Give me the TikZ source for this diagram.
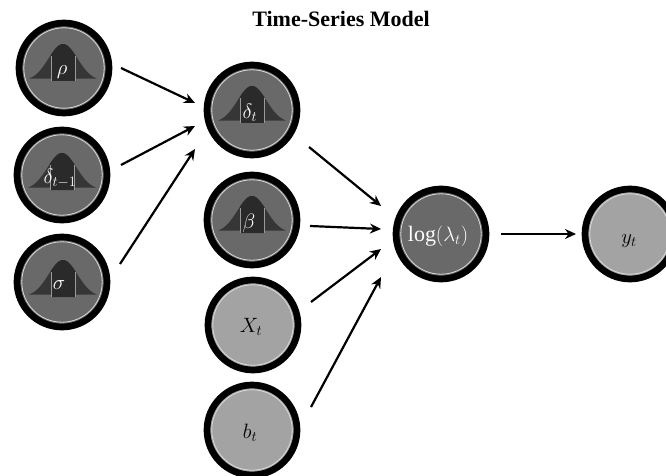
\documentclass[tikz,border=0pt]{standalone}
\usepackage{fontspec}
\setmainfont{Liberation Serif}
\usepackage{amsmath}
\usetikzlibrary{arrows.meta}
\definecolor{latent}{HTML}{696969}
\definecolor{observed}{HTML}{A3A3A3}
\definecolor{bellside}{HTML}{363636}
\definecolor{bellmid}{HTML}{2A2A2A}
\definecolor{ringline}{HTML}{D8D8D8}
\definecolor{tickline}{HTML}{9A9A9A}
\tikzset{
  varnode/.style={circle,draw=black,line width=6.7pt,minimum size=90pt,inner sep=0pt,outer sep=0pt,
    path picture={\draw[ringline,line width=.8pt] (path picture bounding box.center) circle (40.2pt);}},
  latentnode/.style={varnode,fill=latent},
  observednode/.style={varnode,fill=observed},
  varlabel/.style={inner sep=0pt,font=\fontsize{20}{20}\selectfont},
  link/.style={-{Stealth[length=11pt,width=10pt]},line width=2.2pt,black}
}
\newcommand{\bellshape}[2]{%
  \begin{scope}[shift={(#1,#2)}]
    \fill[bellside] plot[domain=-34:34,samples=50,smooth] (\x,{-37*exp(-\x*\x/(2*14.5*14.5))}) -- cycle;
    \fill[bellmid] plot[domain=-12:12,samples=20,smooth] (\x,{-37*exp(-\x*\x/(2*14.5*14.5))}) -- (12,0) -- (-12,0) -- cycle;
    \draw[tickline,line width=.7pt] (-12,0) -- (-12,-25) (12,0) -- (12,-25);
  \end{scope}}
\begin{document}
\begin{tikzpicture}[x=1pt,y=-1pt]
\useasboundingbox (0,0) rectangle (666,476);
\node[font=\bfseries\fontsize{22}{22}\selectfont,inner sep=0pt] (title) at (341,19) {Time-Series Model};

\node[latentnode] (rho) at (64,68) {};
\bellshape{63}{81}
\node[varlabel,white] (rhol) at (62,72) {$\rho$};

\node[latentnode] (dprev) at (62,175) {};
\bellshape{62}{190}
\node[varlabel,white] (dprevl) at (60,178) {$\delta_{t-1}$};

\node[latentnode] (sigma) at (62,282) {};
\bellshape{63}{297}
\node[varlabel,white] (sigmal) at (59,285) {$\sigma$};

\node[latentnode] (dt) at (252,110) {};
\bellshape{252}{123}
\node[varlabel,white] (dtl) at (250,113) {$\delta_t$};

\node[latentnode] (beta) at (252,220) {};
\bellshape{252}{233}
\node[varlabel,white] (betal) at (249,223) {$\beta$};

\node[observednode] (x) at (253,325) {};
\node[varlabel] (xl) at (251,327) {$X_t$};

\node[observednode] (b) at (252,430) {};
\node[varlabel] (bl) at (250,433) {$b_t$};

\node[latentnode] (log) at (441,234) {};
\node[varlabel,white,font=\fontsize{22}{22}\selectfont] (logl) at (438,236) {$\log(\lambda_t)$};

\node[observednode] (y) at (630,234) {};
\node[varlabel] (yl) at (629,241) {$y_t$};

\coordinate (a1s) at (121,68);  \coordinate (a1e) at (195,103);
\coordinate (a2s) at (121,165); \coordinate (a2e) at (195,126);
\coordinate (a3s) at (120,264); \coordinate (a3e) at (195,149);
\coordinate (a4s) at (309,147); \coordinate (a4e) at (381,206);
\coordinate (a5s) at (310,226); \coordinate (a5e) at (381,229);
\coordinate (a6s) at (311,302); \coordinate (a6e) at (381,249);
\coordinate (a7s) at (311,407); \coordinate (a7e) at (381,277);
\coordinate (a8s) at (501,234); \coordinate (a8e) at (576,234);
\foreach \i in {1,...,8} \draw[link] (a\i s) -- (a\i e);
\end{tikzpicture}
\end{document}
